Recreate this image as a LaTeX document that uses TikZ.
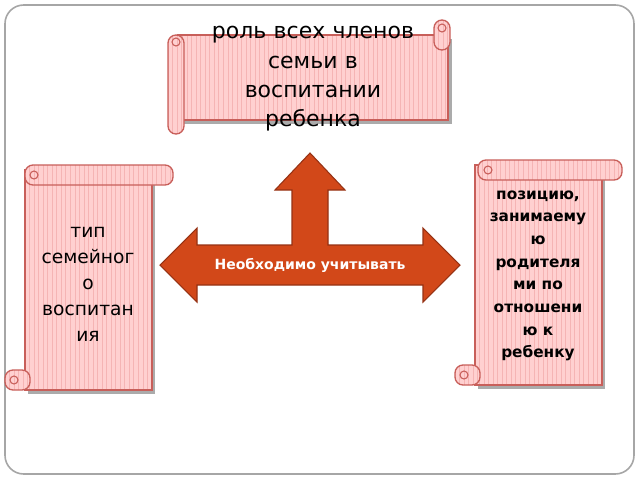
\documentclass[tikz,border=0pt]{standalone}
\usepackage{fontspec}
\setmainfont{DejaVu Sans}
\begin{document}
\begin{tikzpicture}[x=0.75pt,y=-0.75pt,
  scr/.style={draw=scrb,line width=1pt,fill=scrf,
    path picture={\foreach \i in {0,...,70}{\draw[scrs,line width=0.5pt] ([xshift=\i*3.4pt]path picture bounding box.south west) -- ([xshift=\i*3.4pt]path picture bounding box.north west);}}},
  shad/.style={fill=black!55,opacity=0.6},
  arr/.style={fill=arrf,draw=arrb,line width=0.8pt}]
\definecolor{scrf}{RGB}{255,208,208}
\definecolor{scrs}{RGB}{245,180,180}
\definecolor{scrb}{RGB}{200,95,90}
\definecolor{arrf}{RGB}{210,72,25}
\definecolor{arrb}{RGB}{150,50,20}
\useasboundingbox (0,0) rectangle (640,480);
\draw[gray!70,line width=1.2pt,rounded corners=14pt,fill=white] (5,5) rectangle (634,474);
% top scroll
\fill[shad] (181,39) rectangle (452,124);
\draw[scr] (178,35) rectangle (448,120);
\draw[scr,rounded corners=6pt] (168,35) rectangle (184,134);
\draw[scr,rounded corners=6pt] (434,20) rectangle (450,50);
\draw[scrb,line width=0.8pt] (176,42) circle (4);
\draw[scrb,line width=0.8pt] (442,28) circle (4);
\node[font=\fontsize{16.5}{22}\selectfont,align=center,text width=220pt] (top) at (313,79) {роль всех членов\\семьи в\\воспитании\\ребенка};
% left scroll
\fill[shad] (28,169) rectangle (155,394);
\draw[scr] (25,170) rectangle (152,390);
\draw[scr,rounded corners=6pt] (25,165) rectangle (173,185);
\draw[scr,rounded corners=6pt] (5,370) rectangle (30,390);
\draw[scrb,line width=0.8pt] (34,175) circle (4);
\draw[scrb,line width=0.8pt] (14,380) circle (4);
\node[font=\fontsize{14}{19.5}\selectfont,align=center] (left) at (88,284) {тип\\семейног\\о\\воспитан\\ия};
% right scroll
\fill[shad] (478,164) rectangle (605,389);
\draw[scr] (475,165) rectangle (602,385);
\draw[scr,rounded corners=6pt] (478,160) rectangle (622,180);
\draw[scr,rounded corners=6pt] (455,365) rectangle (480,385);
\draw[scrb,line width=0.8pt] (488,170) circle (4);
\draw[scrb,line width=0.8pt] (464,375) circle (4);
\node[font=\bfseries\fontsize{11.5}{17}\selectfont,align=center] (right) at (538,276) {позицию,\\занимаему\\ю\\родителя\\ми по\\отношени\\ю к\\ребенку};
% arrow
\draw[arr] (310,153) -- (345,190) -- (328,190) -- (328,245) -- (423,245) -- (423,228) -- (460,265) -- (423,302) -- (423,285)
  -- (197,285) -- (197,302) -- (160,265) -- (197,228) -- (197,245) -- (292,245) -- (292,190) -- (275,190) -- cycle;
\node[white,font=\bfseries\fontsize{10.5}{12}\selectfont] (mid) at (310,265) {Необходимо учитывать};
\end{tikzpicture}
\end{document}
